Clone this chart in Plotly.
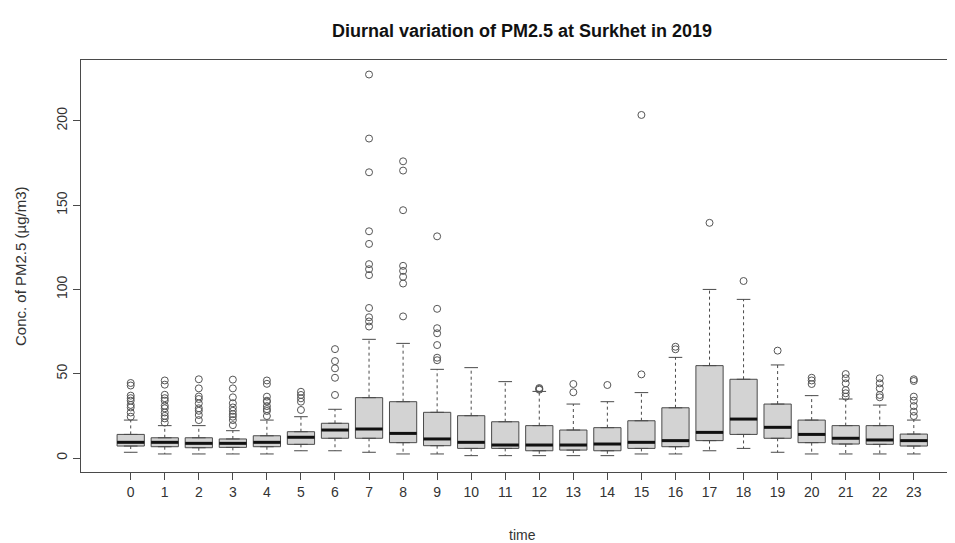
import plotly.graph_objects as go

# ---------------- data ----------------
hours = list(range(24))
tick_labels = [str(h) for h in hours]

whisker_low = [3.4, 2.4, 2.4, 2.4, 2.4, 4.3, 4.3, 3.4, 2.4, 2.4, 1.4, 1.4,
               1.4, 1.4, 1.4, 2.4, 2.4, 4.3, 5.7, 3.4, 2.4, 2.4, 2.4, 2.4]
q1 = [7.1, 6.7, 6.1, 6.3, 6.7, 8.1, 11.7, 11.7, 9.1, 7.3, 5.7, 5.7,
      4.3, 4.7, 4.3, 5.7, 6.7, 10.3, 14.0, 11.7, 9.1, 8.3, 8.1, 7.1]
median = [9.3, 9.3, 8.7, 8.7, 9.3, 12.3, 16.6, 17.2, 14.6, 11.3, 9.3, 7.7,
          7.7, 7.7, 8.3, 9.3, 10.3, 15.2, 23.1, 18.2, 14.0, 11.7, 10.7, 10.3]
q3 = [14.0, 12.0, 12.0, 11.3, 13.2, 15.6, 20.6, 35.8, 33.4, 27.1, 25.1, 21.5,
      19.2, 16.6, 18.0, 22.1, 29.8, 54.8, 46.7, 32.0, 22.5, 19.2, 19.2, 14.2]
whisker_high = [22.5, 19.2, 19.2, 16.2, 22.5, 24.5, 28.9, 70.4, 68.0, 52.6, 53.6, 45.3,
                39.5, 32.0, 33.4, 38.8, 59.7, 100.0, 94.1, 55.2, 37.0, 35.0, 31.4, 22.5]

outlier_values = {
    0: [44.5, 43.0, 37.0, 35.5, 34.0, 31.5, 30.0, 27.0, 24.5],
    1: [46.0, 43.5, 37.5, 35.5, 34.0, 31.0, 29.5, 27.0, 25.0, 23.5, 21.0],
    2: [46.7, 41.3, 36.5, 35.0, 32.4, 29.5, 28.0, 25.5, 22.5],
    3: [46.5, 41.3, 36.0, 32.5, 30.0, 28.0, 26.0, 24.5, 22.5, 19.5],
    4: [46.0, 44.0, 36.4, 34.0, 33.4, 30.8, 29.0, 27.9, 24.9],
    5: [39.3, 37.4, 35.4, 33.4, 28.5],
    6: [64.6, 57.5, 53.2, 47.6, 37.4],
    7: [227.5, 189.5, 169.5, 134.5, 127.0, 115.0, 112.0, 108.5, 89.0, 83.5, 81.0, 78.0],
    8: [176.0, 170.5, 147.0, 114.0, 111.0, 107.5, 103.5, 84.0],
    9: [131.5, 88.5, 77.0, 74.0, 67.0, 59.5, 58.0],
    10: [],
    11: [],
    12: [41.5, 41.0, 40.5],
    13: [43.9, 39.0],
    14: [43.3],
    15: [203.5, 49.6],
    16: [66.0, 64.5],
    17: [139.5],
    18: [105.0],
    19: [63.7],
    20: [47.6, 46.0, 43.9],
    21: [49.8, 47.3, 44.3, 40.3, 38.4, 36.4],
    22: [47.3, 44.3, 41.3, 37.4, 36.0],
    23: [46.7, 45.7, 36.4, 34.0, 30.8, 27.5, 24.9],
}

y_ticks = [0, 50, 100, 150, 200]

title_text = "Diurnal variation of PM2.5 at Surkhet in 2019"
x_title = "time"
y_title = "Conc. of PM2.5 (µg/m3)"

# ---------------- styling ----------------
FONT = "Liberation Sans, Arial, sans-serif"
LINE = "#4a4a4a"
BOX_HALF = 0.4
CAP_HALF = 0.2

fig = go.Figure()

# boxes (no whiskers; whiskers drawn dashed below)
fig.add_trace(go.Box(
    x=hours, q1=q1, median=median, q3=q3,
    lowerfence=q1, upperfence=q3,
    width=2 * BOX_HALF,
    fillcolor="#d3d3d3",
    line=dict(color=LINE, width=1),
    boxpoints=False,
    hoverinfo="skip",
    showlegend=False,
))

# dashed whiskers
wx, wy = [], []
for h, lo, a, b, hi in zip(hours, whisker_low, q1, q3, whisker_high):
    wx += [h, h, None, h, h, None]
    wy += [b, hi, None, a, lo, None]
fig.add_trace(go.Scatter(x=wx, y=wy, mode="lines",
                         line=dict(color=LINE, width=1, dash="3px,3px"),
                         hoverinfo="skip", showlegend=False))

# staples
cx, cy = [], []
for h, lo, hi in zip(hours, whisker_low, whisker_high):
    cx += [h - CAP_HALF, h + CAP_HALF, None, h - CAP_HALF, h + CAP_HALF, None]
    cy += [hi, hi, None, lo, lo, None]
fig.add_trace(go.Scatter(x=cx, y=cy, mode="lines",
                         line=dict(color=LINE, width=1),
                         hoverinfo="skip", showlegend=False))

# thick medians
mx, my = [], []
for h, m in zip(hours, median):
    mx += [h - BOX_HALF, h + BOX_HALF, None]
    my += [m, m, None]
fig.add_trace(go.Scatter(x=mx, y=my, mode="lines",
                         line=dict(color="#111111", width=3),
                         hoverinfo="skip", showlegend=False))

# outliers
ox, oy = [], []
for h in hours:
    for v in outlier_values[h]:
        ox.append(h)
        oy.append(v)
fig.add_trace(go.Scatter(x=ox, y=oy, mode="markers",
                         marker=dict(symbol="circle-open", size=7,
                                     color="#555555", line=dict(width=1)),
                         hoverinfo="skip", showlegend=False))

# the page places the figure at an 8px body offset
fig.update_layout(
    width=947, height=535,
    margin=dict(l=73, r=0, t=52, b=71),
    paper_bgcolor="white", plot_bgcolor="white",
    font=dict(family=FONT, size=14, color="#333333"),
    showlegend=False,
    xaxis=dict(
        range=[-1.46, 24.21],
        tickmode="array", tickvals=hours, ticktext=tick_labels,
        ticks="outside", ticklen=7, tickcolor=LINE, tickwidth=1,
        showline=True, linecolor=LINE, linewidth=1, mirror=True,
        showgrid=False, zeroline=False,
        tickfont=dict(family=FONT, size=14, color="#333333"),
    ),
    yaxis=dict(
        range=[-8.3, 236.1],
        tickmode="array", tickvals=y_ticks, ticktext=[str(v) for v in y_ticks],
        tickangle=-90,
        ticks="outside", ticklen=7, tickcolor=LINE, tickwidth=1,
        showline=True, linecolor=LINE, linewidth=1, mirror=False,
        showgrid=False, zeroline=False,
        tickfont=dict(family=FONT, size=14, color="#333333"),
    ),
    annotations=[
        dict(text="<b>" + title_text + "</b>", xref="x", yref="paper",
             x=11.5, y=1, yshift=29, xanchor="center", yanchor="middle",
             showarrow=False, font=dict(family=FONT, size=18, color="#111111")),
        dict(text=x_title, xref="x", yref="paper",
             x=11.5, y=0, yshift=-63, xanchor="center", yanchor="middle",
             showarrow=False, font=dict(family=FONT, size=14, color="#333333")),
        dict(text=y_title, xref="paper", yref="paper",
             x=0, y=0.5, xshift=-61, xanchor="center", yanchor="middle",
             textangle=-90,
             showarrow=False, font=dict(family=FONT, size=15, color="#333333")),
    ],
)

fig.write_html("out.html")
